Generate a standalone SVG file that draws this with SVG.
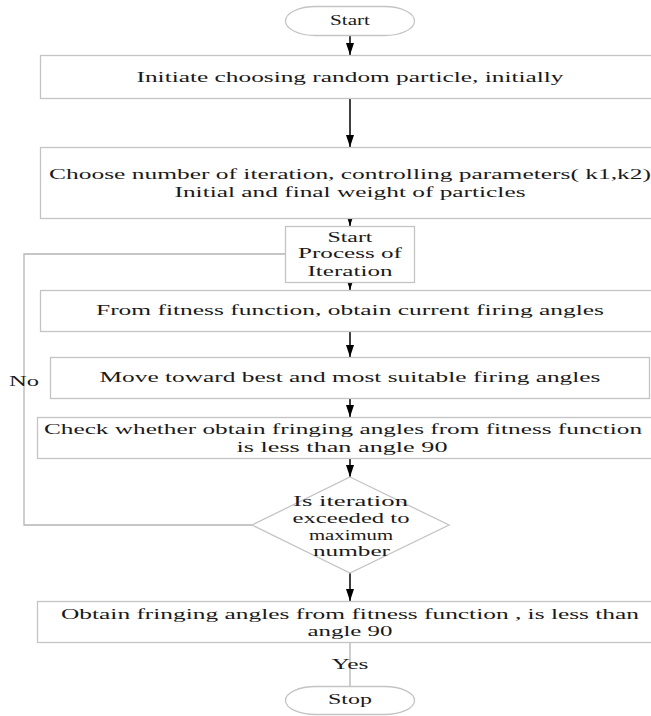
<svg xmlns="http://www.w3.org/2000/svg" width="651" height="716" viewBox="0 0 651 716">
<defs>
<style>
.box{fill:#fff;stroke:#c4c4c4;stroke-width:1.3}
.t{font-family:"Liberation Serif","Times New Roman",serif;font-size:15.5px;fill:#1a1a1a;text-anchor:middle}
.arr{stroke:#000;stroke-width:1.5;fill:none;marker-end:url(#ah)}
.ln{stroke:#b4b4b4;stroke-width:1.3;fill:none}
</style>
<marker id="ah" viewBox="0 0 12 8" refX="12" refY="4" markerWidth="12" markerHeight="8" markerUnits="userSpaceOnUse" orient="auto">
<path d="M0,0 L12,4 L0,8 Z" fill="#000"/>
</marker>
</defs>
<rect width="651" height="716" fill="#fff"/>
<g id="connectors">
<line class="arr" x1="350" y1="35" x2="350" y2="55"/>
<line class="arr" x1="350" y1="98" x2="350" y2="147"/>
<line class="arr" x1="350" y1="219" x2="350" y2="226"/>
<line class="arr" x1="350" y1="282" x2="350" y2="290"/>
<line class="arr" x1="350" y1="332" x2="350" y2="357"/>
<line class="arr" x1="350" y1="399" x2="350" y2="417"/>
<line class="arr" x1="350" y1="459" x2="350" y2="477"/>
<line class="arr" x1="350" y1="573" x2="350" y2="601"/>
<polyline class="ln" points="285,254 24,254 24,525 252,525"/>
<line class="ln" x1="350" y1="643" x2="350" y2="686"/>
<text class="t" x="24" y="386" textLength="30" lengthAdjust="spacingAndGlyphs">No</text>
<text class="t" x="350" y="669" textLength="37" lengthAdjust="spacingAndGlyphs">Yes</text>
</g>
<g id="start">
<rect class="box" x="285.5" y="6.5" width="129" height="29" rx="30" ry="14.5"/>
<text class="t" x="350" y="25" textLength="40" lengthAdjust="spacingAndGlyphs">Start</text>
</g>
<g id="init">
<rect class="box" x="40.5" y="55.5" width="625" height="43"/>
<text class="t" x="350" y="82" textLength="427" lengthAdjust="spacingAndGlyphs">Initiate choosing random particle, initially</text>
</g>
<g id="choose">
<rect class="box" x="40.5" y="147.5" width="625" height="71"/>
<text class="t" x="350" y="179" textLength="602" lengthAdjust="spacingAndGlyphs">Choose number of iteration, controlling parameters( k1,k2)</text>
<text class="t" x="350" y="197" textLength="351" lengthAdjust="spacingAndGlyphs">Initial and final weight of particles</text>
</g>
<g id="process">
<rect class="box" x="285.5" y="226.5" width="129" height="56"/>
<text class="t" x="350" y="242" textLength="45" lengthAdjust="spacingAndGlyphs">Start</text>
<text class="t" x="350" y="258" textLength="104" lengthAdjust="spacingAndGlyphs">Process of</text>
<text class="t" x="350" y="276" textLength="85" lengthAdjust="spacingAndGlyphs">Iteration</text>
</g>
<g id="fitness">
<rect class="box" x="40.5" y="290.5" width="625" height="41"/>
<text class="t" x="350" y="315" textLength="508" lengthAdjust="spacingAndGlyphs">From fitness function, obtain current firing angles</text>
</g>
<g id="move">
<rect class="box" x="50.5" y="357.5" width="599" height="41"/>
<text class="t" x="350" y="382" textLength="501" lengthAdjust="spacingAndGlyphs">Move toward best and most suitable firing angles</text>
</g>
<g id="check">
<rect class="box" x="37.5" y="417.5" width="628" height="41"/>
<text class="t" x="343" y="434" textLength="598" lengthAdjust="spacingAndGlyphs">Check whether obtain fringing angles from fitness function</text>
<text class="t" x="342" y="452" textLength="211" lengthAdjust="spacingAndGlyphs">is less than angle 90</text>
</g>
<g id="decision">
<polygon class="box" points="350,477 449,525 350,573 252,525" style="fill:none"/>
<text class="t" x="350.5" y="506" textLength="115" lengthAdjust="spacingAndGlyphs">Is iteration</text>
<text class="t" x="351" y="523" textLength="117" lengthAdjust="spacingAndGlyphs">exceeded to</text>
<text class="t" x="351" y="540" textLength="84" lengthAdjust="spacingAndGlyphs">maximum</text>
<text class="t" x="351.5" y="556" textLength="77" lengthAdjust="spacingAndGlyphs">number</text>
</g>
<g id="obtain">
<rect class="box" x="37.5" y="601.5" width="628" height="41"/>
<text class="t" x="350" y="619" textLength="578" lengthAdjust="spacingAndGlyphs">Obtain fringing angles from fitness function , is less than</text>
<text class="t" x="350" y="636" textLength="85" lengthAdjust="spacingAndGlyphs">angle 90</text>
</g>
<g id="stop">
<rect class="box" x="285.5" y="686.5" width="129" height="28" rx="30" ry="14"/>
<text class="t" x="350" y="704" textLength="44" lengthAdjust="spacingAndGlyphs">Stop</text>
</g>
</svg>
